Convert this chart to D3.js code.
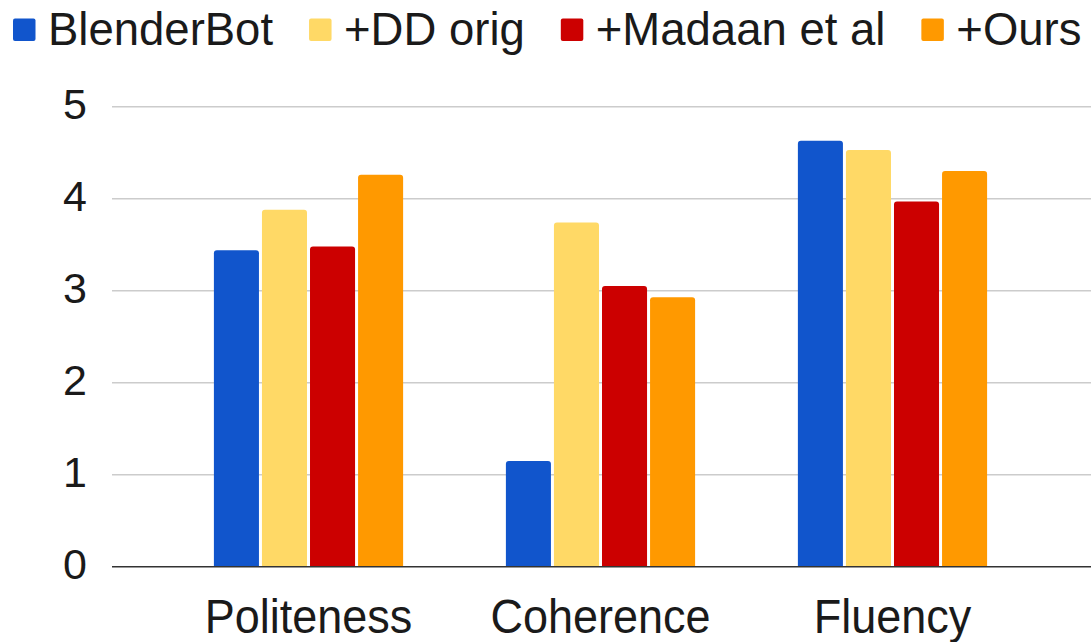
<!DOCTYPE html>
<html lang="en">
<head>
    <meta charset="UTF-8">
    <title>Human evaluation</title>
    <script src="https://d3js.org/d3.v7.min.js"></script>
    <style>
        body { margin: 0; background: #fff; }
        svg { display: block; font-family: "Liberation Sans", Arial, sans-serif; }
        .tick-label { font-size: 43px; fill: #1a1a1a; }
        .cat-label { font-size: 45px; fill: #1a1a1a; }
        .legend text { font-size: 45.5px; fill: #1a1a1a; }
    </style>
</head>
<body>
<svg id="chart"></svg>
<script>
    // Data
    const categories = ["Politeness", "Coherence", "Fluency"];
    const seriesNames = ["BlenderBot", "+DD orig", "+Madaan et al", "+Ours"];
    const blenderBot = [3.44, 1.15, 4.63];
    const ddOrig = [3.88, 3.74, 4.53];
    const madaan = [3.48, 3.05, 3.97];
    const ours = [4.26, 2.93, 4.30];
    const yTicks = [0, 1, 2, 3, 4, 5];
    const colors = ["#1155cc", "#ffd966", "#cc0000", "#ff9900"];

    const seriesValues = [blenderBot, ddOrig, madaan, ours];

    const width = 1091, height = 642;
    const plotLeft = 112, plotRight = 1089, plotTop = 106.7, plotBottom = 566.7;

    const svg = d3.select("#chart")
        .attr("width", width)
        .attr("height", height);

    const y = d3.scaleLinear().domain([0, 5]).range([plotBottom, plotTop]);

    const x0 = d3.scaleBand()
        .domain(categories)
        .range([plotLeft, plotRight])
        .paddingInner(0.352)
        .paddingOuter(0.349);

    const x1 = d3.scaleBand()
        .domain(seriesNames)
        .range([0, x0.bandwidth()])
        .paddingInner(0.0625);

    // gridlines
    svg.append("g")
        .selectAll("line")
        .data(yTicks.filter(d => d > 0))
        .enter().append("line")
        .attr("x1", plotLeft)
        .attr("x2", width)
        .attr("y1", d => y(d))
        .attr("y2", d => y(d))
        .attr("stroke", "#cccccc")
        .attr("stroke-width", 1.4);

    // y tick labels
    svg.append("g")
        .selectAll("text")
        .data(yTicks)
        .enter().append("text")
        .attr("class", "tick-label")
        .attr("x", 87)
        .attr("y", d => y(d))
        .attr("dy", "0.29em")
        .attr("text-anchor", "end")
        .text(d => d);

    // bars with slightly rounded tops
    function barPath(x, yTop, w, yBase, r) {
        return `M${x},${yBase}V${yTop + r}Q${x},${yTop} ${x + r},${yTop}` +
            `H${x + w - r}Q${x + w},${yTop} ${x + w},${yTop + r}V${yBase}Z`;
    }

    const bars = [];
    categories.forEach((c, ci) => {
        seriesNames.forEach((s, si) => {
            bars.push({ cat: c, series: s, value: seriesValues[si][ci], color: colors[si] });
        });
    });

    svg.append("g")
        .selectAll("path")
        .data(bars)
        .enter().append("path")
        .attr("fill", d => d.color)
        .attr("d", d => barPath(x0(d.cat) + x1(d.series), y(d.value), x1.bandwidth(), y(0), 3));

    // baseline
    svg.append("line")
        .attr("x1", plotLeft)
        .attr("x2", width)
        .attr("y1", y(0))
        .attr("y2", y(0))
        .attr("stroke", "#333333")
        .attr("stroke-width", 1.6);

    // category labels (reference text is a little stretched vertically)
    svg.append("g")
        .selectAll("text")
        .data(categories)
        .enter().append("text")
        .attr("class", "cat-label")
        .attr("text-anchor", "middle")
        .attr("transform", d => `translate(${x0(d) + x0.bandwidth() / 2},633) scale(1,1.07)`)
        .text(d => d);

    // legend
    const legend = svg.append("g").attr("class", "legend");
    let lx = 13;
    seriesNames.forEach((s, i) => {
        legend.append("rect")
            .attr("x", lx)
            .attr("y", 18.5)
            .attr("width", 22.5)
            .attr("height", 22.5)
            .attr("rx", 2)
            .attr("fill", colors[i]);
        const t = legend.append("text")
            .attr("transform", `translate(${lx + 35},45) scale(1,1.03)`)
            .text(s);
        lx += 35 + t.node().getComputedTextLength() + 36;
    });
</script>
</body>
</html>
